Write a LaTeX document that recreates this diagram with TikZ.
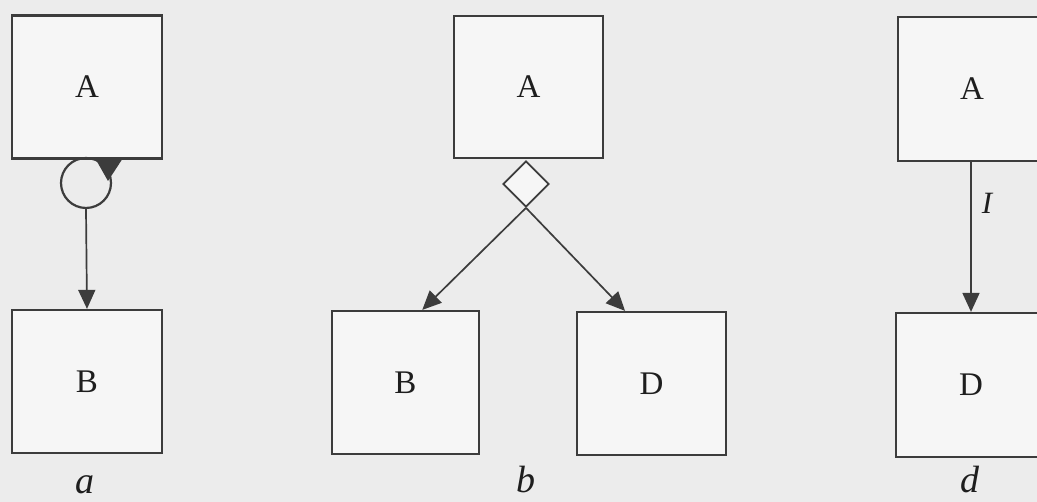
\documentclass[tikz,border=0pt]{standalone}
\usepackage{fontspec}
\setmainfont{Liberation Serif}
\usetikzlibrary{arrows.meta,shapes.geometric,calc}
\definecolor{linec}{RGB}{60,60,60}
\definecolor{bgc}{RGB}{236,236,236}
\definecolor{boxc}{RGB}{246,246,246}
\definecolor{txtc}{RGB}{30,30,30}
\begin{document}
\begin{tikzpicture}[x=1pt,y=-1pt,
  box/.style={draw=linec,line width=2.2pt,fill=boxc,inner sep=0pt,
    minimum width=150pt,minimum height=143pt,text=txtc,
    font=\fontsize{33}{33}\selectfont},
  conn/.style={draw=linec,line width=1.7pt},
  arr/.style={conn,-{Triangle[length=19pt,width=17pt]}},
  lab/.style={text=txtc,font=\fontsize{38}{38}\selectfont\itshape,anchor=base}]
\useasboundingbox (0,0) rectangle (1037,502);
\fill[bgc] (0,0) rectangle (1037,502);
\clip (0,0) rectangle (1037,502);
% panel a
\node[box] (Aa) at (87,87) {A};
\node[box] (Ba) at (87,381.5) {B};
\node[draw=linec,line width=2.2pt,circle,minimum size=50pt,inner sep=0pt] (ca) at (86,183) {};
\fill[linec] ($(ca)+(9,-25)$) -- ($(ca)+(37,-25)$) -- ($(ca)+(22,-2)$) -- cycle;
\draw[arr] (ca.south) -- (Ba.north);
\node[lab] (la) at (85,494) {a};
% panel b
\node[box,minimum width=149pt,minimum height=142pt] (Ab) at (528.5,87) {A};
\node[draw=linec,line width=1.7pt,fill=boxc,diamond,minimum width=46pt,minimum height=46pt,inner sep=0pt] (db) at (526,184) {};
\node[box,minimum width=147pt] (Bb) at (405.5,382.5) {B};
\node[box,minimum width=149pt] (Db) at (651.5,383.5) {D};
\draw[arr] (db.south) -- (Bb.77);
\draw[arr] (db.south) -- (Db.110);
\node[lab] (lb) at (526,493) {b};
% panel d
\node[box,minimum width=148pt,minimum height=144pt] (Ad) at (972,89) {A};
\node[box,minimum width=150pt,minimum height=144pt] (Dd) at (971,385) {D};
\draw[arr] (Ad.south -| Dd.north) -- (Dd.north);
\node[text=txtc,font=\fontsize{31}{31}\selectfont\itshape] (li) at (987,203) {I};
\node[lab] (ld) at (970,493) {d};
\end{tikzpicture}
\end{document}
